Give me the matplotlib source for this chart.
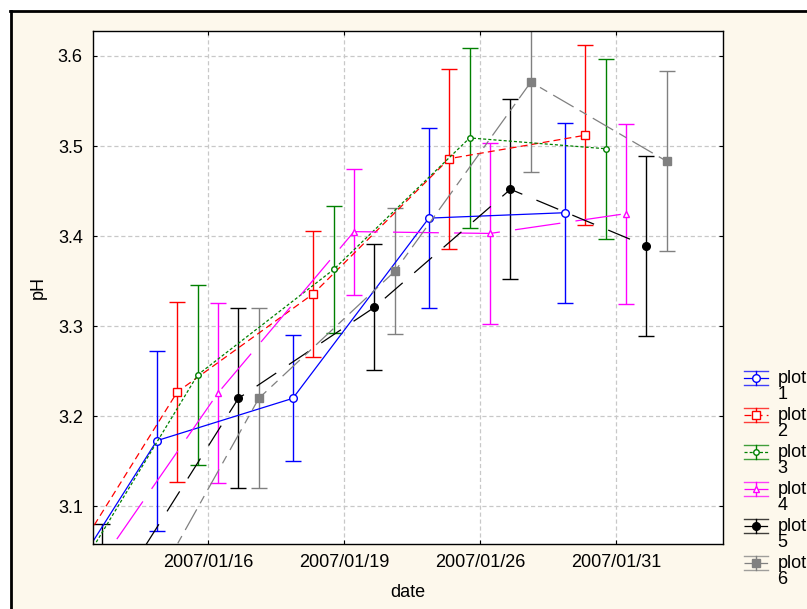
import matplotlib
matplotlib.use('Agg')
import matplotlib.pyplot as plt
import numpy as np
from matplotlib.lines import Line2D
from matplotlib.patches import Rectangle
from matplotlib.legend_handler import HandlerBase

plt.rcParams['font.family'] = ['Liberation Sans', 'DejaVu Sans']
plt.rcParams['lines.scale_dashes'] = False

# sampling dates (first one sits left of the visible range)
dates = ['', '2007/01/16', '2007/01/19', '2007/01/26', '2007/01/31']

# mean pH per date for each plot
plot1 = [2.935, 3.173, 3.220, 3.420, 3.426]
plot2 = [2.985, 3.227, 3.336, 3.486, 3.512]
plot3 = [2.997, 3.246, 3.363, 3.509, 3.497]
plot4 = [3.008, 3.226, 3.405, 3.403, 3.425]
plot5 = [2.981, 3.220, 3.321, 3.452, 3.389]
plot6 = [2.950, 3.220, 3.361, 3.571, 3.483]

# error bar half-widths per date
err = [0.10, 0.10, 0.07, 0.10, 0.10]

labels = ['plot\n1', 'plot\n2', 'plot\n3', 'plot\n4', 'plot\n5', 'plot\n6']


class StatHandler(HandlerBase):
    # legend key in the Statistica look: cap line, data line, cap line, short bar
    def create_artists(self, legend, orig_handle, xdescent, ydescent, width, height, fontsize, trans):
        src = orig_handle.lines[0]
        c = src.get_color()
        x0 = -xdescent
        y0 = height / 2 - ydescent + 6.5
        d = 5.0
        main = Line2D([x0, x0 + width / 2, x0 + width], [y0, y0, y0])
        main.update_from(src)
        main.set_markevery([1])
        main.set_clip_on(False)
        main.set_clip_box(None)
        main.set_clip_path(None)
        top = Line2D([x0, x0 + width], [y0 + d, y0 + d], color=c, lw=1, alpha=0.75)
        bot = Line2D([x0, x0 + width], [y0 - d, y0 - d], color=c, lw=1, alpha=0.75)
        bar = Line2D([x0 + width / 2] * 2, [y0 - d, y0 + d], color=c, lw=1)
        arts = [top, bot, bar, main]
        for a in arts:
            a.set_transform(trans)
        return arts


cream = '#fdf8ec'
fig = plt.figure(figsize=(8.07, 6.09), dpi=100)
fig.patch.set_facecolor('white')
# cream panel with black left/top border like the original window
fig.add_artist(Rectangle((10 / 807, 0), 1, 1 - 10 / 609, transform=fig.transFigure,
                         facecolor=cream, edgecolor='none', zorder=-10))
fig.add_artist(Line2D([10.5 / 807, 10.5 / 807], [0, 1 - 10.5 / 609], transform=fig.transFigure,
                      color='black', lw=2))
fig.add_artist(Line2D([10 / 807, 1], [1 - 10.5 / 609, 1 - 10.5 / 609], transform=fig.transFigure,
                      color='black', lw=2))

ax = fig.add_axes([92.5 / 807, 64.7 / 609, (723.3 - 92.5) / 807, (578.3 - 64.7) / 609])
ax.set_facecolor('white')

x = np.arange(len(dates))
offsets = [-0.375, -0.225, -0.075, 0.075, 0.225, 0.375]
series = [plot1, plot2, plot3, plot4, plot5, plot6]
colors = ['#0000ff', '#ff0000', '#008000', '#ff00ff', '#000000', '#808080']
styles = ['-', (0, (5, 3)), (0, (2.2, 1.5)), (0, (33, 11)), (0, (17, 11)), (0, (17, 5, 6, 5))]
markers = ['o', 's', 'o', '^', 'o', 's']
msizes = [5.5, 5.5, 4, 5, 5.5, 5.5]
faces = ['white', 'white', 'white', 'white', '#000000', '#808080']

handles = []
for vals, off, c, ls, m, ms, fc, lab in zip(series, offsets, colors, styles, markers, msizes, faces, labels):
    h = ax.errorbar(x + off, vals, yerr=err, color=c, ls=ls, lw=0.9, marker=m, ms=ms,
                    mfc=fc, mec=c, mew=1, elinewidth=1, ecolor=c, capsize=5.5, capthick=1,
                    label=lab)
    handles.append(h)

ax.set_xticks(x)
ax.set_xticklabels(dates)
ax.set_yticks([3.1, 3.2, 3.3, 3.4, 3.5, 3.6])
ax.set_yticklabels(['3.1', '3.2', '3.3', '3.4', '3.5', '3.6'])
ax.set_xlim(0.152, 4.79)
ax.set_ylim(3.058, 3.628)
ax.grid(True, color='#c8c8c8', ls=(0, (3, 2)), lw=0.9)
ax.tick_params(direction='in', length=3, top=True, right=True, labelsize=13, pad=7)
for s in ax.spines.values():
    s.set_linewidth(1)
ax.set_xlabel('date', fontsize=13, labelpad=9)
ax.set_ylabel('pH', fontsize=13, labelpad=8)

leg = fig.legend(handles=handles, labels=labels, loc='upper left',
                 bbox_to_anchor=(744 / 807, 1 - 370 / 609), frameon=False,
                 fontsize=13, handlelength=1.35, handletextpad=0.5, labelspacing=0.2,
                 borderaxespad=0, borderpad=0,
                 handler_map={type(handles[0]): StatHandler()})
for t in leg.get_texts():
    t.set_linespacing(0.95)

fig.savefig('out.png', dpi=100, facecolor=fig.get_facecolor())
